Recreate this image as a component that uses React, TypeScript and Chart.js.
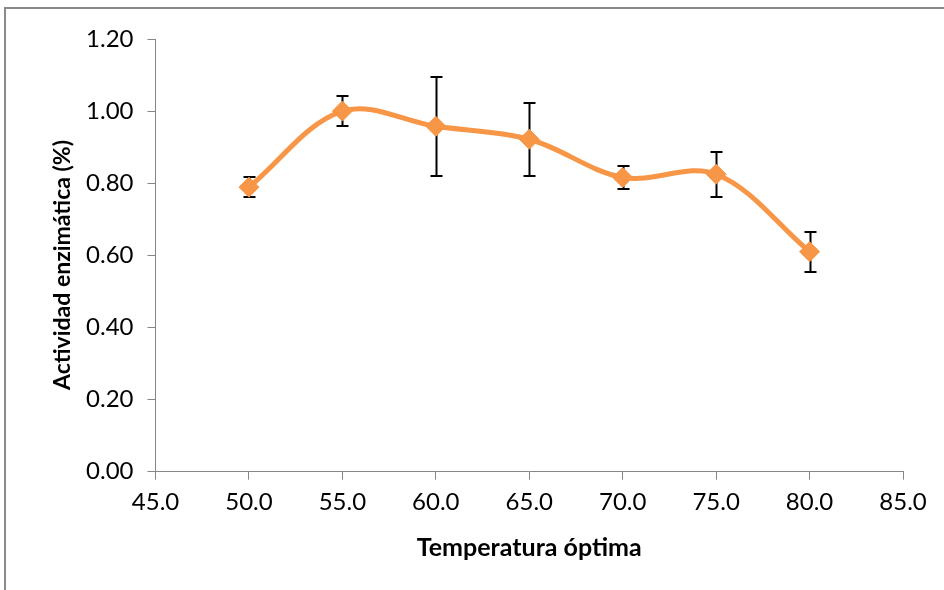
import { useEffect, useRef } from "react";
import { Chart, registerables } from "chart.js";

Chart.register(...registerables);

// Measured enzyme activity at each temperature, with its standard deviation
const temperatures = [50, 55, 60, 65, 70, 75, 80];
const activity = [0.789, 1.0, 0.958, 0.922, 0.816, 0.825, 0.61];
const activityError = [0.027, 0.041, 0.138, 0.101, 0.031, 0.062, 0.055];

const xRange = { min: 45, max: 85, step: 5 };
const yRange = { min: 0, max: 1.2, step: 0.2 };

const xTitle = "Temperatura óptima";
const yTitle = "Actividad enzimática (%)";

const FONT = "Lato, 'Open Sans', sans-serif";
const ORANGE = "#F79646";
const AXIS_GREY = "#868686";

// Outer chart frame, Excel-style
const framePlugin = {
  id: "frame",
  beforeDraw(chart: any) {
    const { ctx } = chart;
    ctx.save();
    ctx.fillStyle = "#ffffff";
    ctx.fillRect(0, 0, chart.width, chart.height);
    ctx.strokeStyle = "#8a8a8a";
    ctx.lineWidth = 2;
    ctx.strokeRect(5, 8, chart.width + 20, chart.height + 20);
    ctx.restore();
  },
};

// Vertical error bars with caps, drawn beneath the line and markers
const errorBarPlugin = {
  id: "errorBars",
  beforeDatasetsDraw(chart: any) {
    const { ctx } = chart;
    const x = chart.scales.x;
    const y = chart.scales.y;
    ctx.save();
    ctx.strokeStyle = "#000000";
    ctx.lineWidth = 2;
    temperatures.forEach((t, i) => {
      const px = Math.round(x.getPixelForValue(t)) + 0.5;
      const top = Math.round(y.getPixelForValue(activity[i] + activityError[i]));
      const bottom = Math.round(y.getPixelForValue(activity[i] - activityError[i]));
      ctx.beginPath();
      ctx.moveTo(px, top);
      ctx.lineTo(px, bottom);
      ctx.moveTo(px - 6, top);
      ctx.lineTo(px + 6, top);
      ctx.moveTo(px - 6, bottom);
      ctx.lineTo(px + 6, bottom);
      ctx.stroke();
    });
    ctx.restore();
  },
};

// Axis titles placed around the plot area
const titlePlugin = {
  id: "axisTitles",
  afterDraw(chart: any) {
    const { ctx, chartArea } = chart;
    ctx.save();
    ctx.fillStyle = "#000000";
    ctx.textAlign = "center";
    ctx.textBaseline = "middle";
    ctx.font = `bold 25px ${FONT}`;
    ctx.fillText(xTitle, (chartArea.left + chartArea.right) / 2, 548);
    ctx.font = `bold 23px ${FONT}`;
    ctx.translate(63, 265);
    ctx.rotate(-Math.PI / 2);
    ctx.fillText(yTitle, 0, 0);
    ctx.restore();
  },
};

export default function App() {
  const canvasRef = useRef<HTMLCanvasElement | null>(null);

  useEffect(() => {
    if (!canvasRef.current) return;
    const chart = new Chart(canvasRef.current, {
      type: "scatter",
      data: {
        datasets: [
          {
            data: temperatures.map((t, i) => ({ x: t, y: activity[i] })),
            showLine: true,
            borderColor: ORANGE,
            borderWidth: 5,
            tension: 0.35,
            borderCapStyle: "round",
            borderJoinStyle: "round",
            pointStyle: "rectRot",
            pointRadius: 10,
            pointBackgroundColor: ORANGE,
            pointBorderColor: ORANGE,
            pointBorderWidth: 1,
          },
        ],
      },
      options: {
        responsive: false,
        animation: false,
        events: [],
        layout: { padding: { top: 39, right: 41, left: 0, bottom: 0 } },
        plugins: { legend: { display: false }, tooltip: { enabled: false } },
        scales: {
          x: {
            type: "linear",
            min: xRange.min,
            max: xRange.max,
            ticks: {
              stepSize: xRange.step,
              callback: (v: any) => Number(v).toFixed(1),
              color: "#000000",
              font: { family: FONT, size: 24 },
              padding: 8,
              maxRotation: 0,
            },
            grid: {
              drawOnChartArea: false,
              drawTicks: true,
              tickLength: 8,
              color: AXIS_GREY,
              tickColor: AXIS_GREY,
            },
            border: { display: true, color: AXIS_GREY, width: 1 },
            afterFit: (s: any) => {
              s.height = 118.3;
            },
          },
          y: {
            type: "linear",
            min: yRange.min,
            max: yRange.max,
            ticks: {
              stepSize: yRange.step,
              callback: (v: any) => Number(v).toFixed(2),
              color: "#000000",
              font: { family: FONT, size: 24 },
              padding: 14,
            },
            grid: {
              drawOnChartArea: false,
              drawTicks: true,
              tickLength: 8,
              color: AXIS_GREY,
              tickColor: AXIS_GREY,
            },
            border: { display: true, color: AXIS_GREY, width: 1 },
            afterFit: (s: any) => {
              s.width = 155.5;
            },
          },
        },
      },
      plugins: [framePlugin, errorBarPlugin, titlePlugin],
    } as any);
    return () => chart.destroy();
  }, []);

  return (
    <div style={{ position: "absolute", left: 0, top: 0, width: 944, height: 590 }}>
      <canvas ref={canvasRef} width={944} height={590} style={{ display: "block" }} />
    </div>
  );
}
